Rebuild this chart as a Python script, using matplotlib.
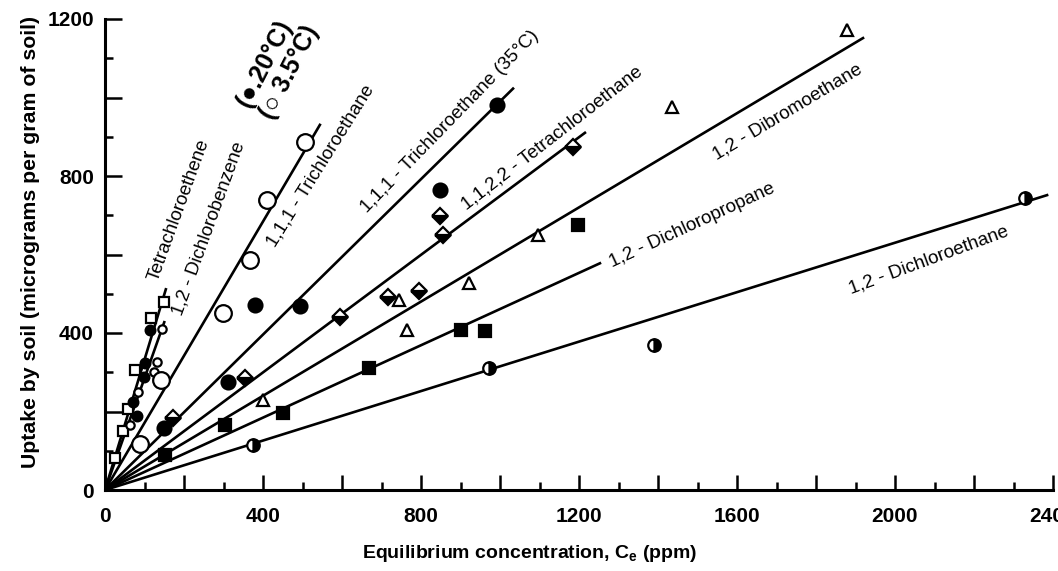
import matplotlib
matplotlib.use("Agg")
import matplotlib.pyplot as plt
from matplotlib.ticker import MultipleLocator, FuncFormatter

# Sorption isotherms: uptake by soil vs equilibrium concentration (ppm)

# open squares and small dots - tetrachloroethene
pce_sq_x = [25, 46, 58, 76, 116, 149]
pce_sq_y = [82, 150, 206, 306, 438, 479]
pce_dot_x = [71, 81, 99, 101, 114]
pce_dot_y = [224, 189, 288, 324, 408]

# small open circles - 1,2-dichlorobenzene
dcb_x = [63, 84, 124, 132, 144]
dcb_y = [166, 250, 301, 326, 410]

# 1,1,1-trichloroethane, 3.5 C (open) and 20/35 C (filled)
tca_open_x = [89, 142, 299, 367, 410, 506]
tca_open_y = [117, 280, 451, 586, 739, 887]
tca_fill_x = [149, 311, 380, 494, 848, 992]
tca_fill_y = [158, 275, 471, 469, 764, 981]

# half filled diamonds - 1,1,2,2-tetrachloroethane
pca_x = [172, 354, 595, 716, 795, 848, 856, 1185]
pca_y = [183, 285, 441, 492, 507, 698, 650, 874]

# open triangles - 1,2-dibromoethane
edb_x = [400, 745, 764, 922, 1096, 1435, 1878]
edb_y = [229, 484, 408, 527, 650, 976, 1172]

# filled squares - 1,2-dichloropropane
dcp_x = [152, 304, 451, 669, 901, 962, 1197]
dcp_y = [89, 166, 196, 311, 408, 406, 675]

# half filled circles - 1,2-dichloroethane
dca_x = [375, 972, 1390, 2329]
dca_y = [115, 311, 369, 744]

# fitted isotherm lines through the origin: slope and x extent
names = ["Tetrachloroethene", "1,2 - Dichlorobenzene", "1,1,1 - Trichloroethane",
         "1,1,1 - Trichloroethane (35°C)", "1,1,2,2 - Tetrachloroethane",
         "1,2 - Dibromoethane", "1,2 - Dichloropropane", "1,2 - Dichloroethane"]
slopes = [3.32, 2.85, 1.71, 0.99, 0.749, 0.600, 0.461, 0.315]
x_ends = [154, 150, 544, 1033, 1215, 1919, 1253, 2385]

# label placement (data coords) and angle for each line
label_xy = [(187, 713), (263, 665), (547, 825), (873, 938), (1132, 897),
            (1729, 963), (1486, 675), (2086, 586)]
label_rot = [70, 70, 58, 45.8, 37.7, 31, 24.8, 20.3]

NARROW = ["Liberation Sans Narrow", "Liberation Sans", "DejaVu Sans"]
SANS = ["Liberation Sans", "DejaVu Sans"]

plt.rcParams["mathtext.fontset"] = "custom"
plt.rcParams["mathtext.rm"] = "Liberation Sans:bold"
plt.rcParams["mathtext.default"] = "rm"

fig = plt.figure(figsize=(10.58, 5.71), dpi=100)
ax = fig.add_axes([105 / 1058, 81 / 571, 948 / 1058, 471 / 571])

for s, xe in zip(slopes, x_ends):
    ax.plot([0, xe], [0, s * xe], color="black", lw=1.9, zorder=2)

mk = dict(linestyle="none", color="black", markeredgecolor="black",
          markeredgewidth=1.6, zorder=3)
ax.plot(pce_sq_x, pce_sq_y, marker="s", ms=6.5, markerfacecolor="white", **mk)
ax.plot(pce_dot_x, pce_dot_y, marker="o", ms=7, markerfacecolor="black", **mk)
ax.plot(dcb_x, dcb_y, marker="o", ms=6, markerfacecolor="white", **mk)
ax.plot(tca_open_x, tca_open_y, marker="o", ms=12, markerfacecolor="white", **mk)
ax.plot(tca_fill_x, tca_fill_y, marker="o", ms=10, markerfacecolor="black", **mk)
ax.plot(pca_x, pca_y, marker="D", ms=8, fillstyle="bottom",
        markerfacecolor="black", markerfacecoloralt="white", **mk)
ax.plot(edb_x, edb_y, marker="^", ms=8.5, markerfacecolor="white", **mk)
ax.plot(dcp_x, dcp_y, marker="s", ms=8, markerfacecolor="black", **mk)
ax.plot(dca_x, dca_y, marker="o", ms=9, fillstyle="right",
        markerfacecolor="black", markerfacecoloralt="white", **mk)

for name, (lx, ly), rot in zip(names, label_xy, label_rot):
    ax.text(lx, ly, name, rotation=rot, rotation_mode="anchor", ha="center",
            va="center", fontsize=13.5, family=SANS)

# temperature key
ax.text(405, 1088, "(\u25cf.20°C)", rotation=63, rotation_mode="anchor",
        ha="center", va="center", fontsize=18, fontweight="bold",
        family=["Liberation Sans", "DejaVu Sans"])
ax.text(466, 1063, "(\u25cb 3.5°C)", rotation=63, rotation_mode="anchor",
        ha="center", va="center", fontsize=18, fontweight="bold",
        family=["Liberation Sans", "DejaVu Sans"])

ax.set_xlim(0, 2400)
ax.set_ylim(0, 1200)
ax.spines["top"].set_visible(False)
ax.spines["right"].set_visible(False)
ax.spines["left"].set_linewidth(2.2)
ax.spines["bottom"].set_linewidth(2.2)
ax.spines["left"].set_capstyle("projecting")
ax.spines["bottom"].set_capstyle("projecting")

ax.xaxis.set_major_locator(MultipleLocator(200))
ax.xaxis.set_minor_locator(MultipleLocator(100))
ax.yaxis.set_major_locator(MultipleLocator(200))
ax.yaxis.set_minor_locator(MultipleLocator(100))
every400 = FuncFormatter(lambda v, p: f"{v:.0f}" if round(v) % 400 == 0 else "")
ax.xaxis.set_major_formatter(every400)
ax.yaxis.set_major_formatter(every400)

ax.tick_params(which="major", direction="in", width=1.8, labelsize=15)
ax.tick_params(axis="y", which="major", length=12, pad=8)
ax.tick_params(axis="x", which="major", length=11, pad=12)
ax.tick_params(which="minor", direction="in", width=1.8, length=6)
for lab in ax.get_xticklabels() + ax.get_yticklabels():
    lab.set_family(NARROW)
    lab.set_fontweight("bold")

ax.set_xlabel("Equilibrium concentration, C$_\\mathregular{e}$ (ppm)",
              fontsize=14, fontweight="bold", family=NARROW)
ax.set_ylabel("Uptake by soil (micrograms per gram of soil)",
              fontsize=15.3, fontweight="bold", family=NARROW)
ax.xaxis.set_label_coords(0.448, -0.134)
ax.yaxis.set_label_coords(-0.079, 0.527)
ax.xaxis.label.set_va("center")
ax.yaxis.label.set_va("center")

fig.savefig("out.png", dpi=100)
